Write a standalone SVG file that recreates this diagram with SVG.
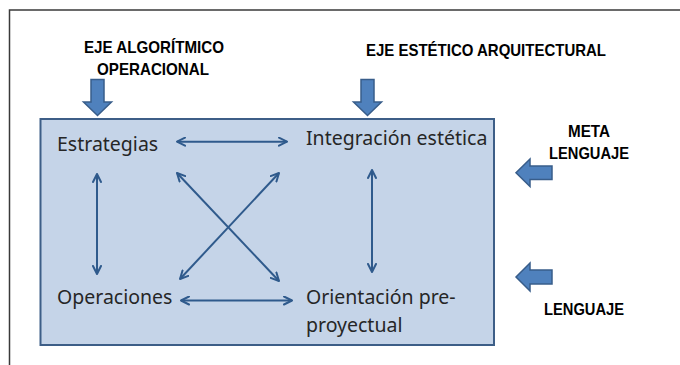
<svg xmlns="http://www.w3.org/2000/svg" width="680" height="365" viewBox="0 0 680 365">
<style>
.lbl{font-family:"Liberation Sans",Arial,sans-serif;font-weight:bold;font-size:16.5px;fill:#000}
.node{font-family:"Noto Sans","Open Sans",sans-serif;font-size:19.5px;fill:#262626}
.blk{fill:#4f81bd;stroke:#385d8a;stroke-width:1.5}
.con{stroke:#2f5a8c;stroke-width:2;fill:none;marker-start:url(#ah);marker-end:url(#ah)}
</style>
<defs>
<marker id="ah" viewBox="0 0 10 10" refX="9" refY="5" markerWidth="5" markerHeight="5" orient="auto-start-reverse" markerUnits="strokeWidth">
<path d="M1,1 L9,5 L1,9" fill="none" stroke="#2f5a8c" stroke-width="2" stroke-linecap="round" stroke-linejoin="round"/>
</marker>
</defs>
<rect width="680" height="365" fill="#fff"/>
<g id="frame">
<path d="M9.5,365 V10 H680" fill="none" stroke="#3a3a3a" stroke-width="1.5"/>
</g>
<g id="box">
<rect x="40.5" y="119" width="453.5" height="226" fill="#c5d4e8" stroke="#3d5e87" stroke-width="2"/>
</g>
<g id="axis-algoritmico">
<text class="lbl" x="84" y="53" textLength="140" lengthAdjust="spacingAndGlyphs">EJE ALGORÍTMICO</text>
<text class="lbl" x="97" y="75" textLength="112" lengthAdjust="spacingAndGlyphs">OPERACIONAL</text>
<path class="blk" d="M91,79.5 H104 V102 H111.5 L97.5,115.5 L83.5,102 H91 Z"/>
</g>
<g id="axis-estetico">
<text class="lbl" x="366" y="56" textLength="240" lengthAdjust="spacingAndGlyphs">EJE ESTÉTICO ARQUITECTURAL</text>
<path class="blk" d="M361,79.5 H374 V102 H381.5 L367.5,115.5 L353.5,102 H361 Z"/>
</g>
<g id="metalenguaje">
<text class="lbl" x="568" y="137" textLength="42" lengthAdjust="spacingAndGlyphs">META</text>
<text class="lbl" x="549" y="159" textLength="80" lengthAdjust="spacingAndGlyphs">LENGUAJE</text>
<path class="blk" d="M552,166 V179.5 H530 V186.5 L516,172.7 L530,159 V166 Z"/>
</g>
<g id="lenguaje">
<text class="lbl" x="544" y="315" textLength="80" lengthAdjust="spacingAndGlyphs">LENGUAJE</text>
<path class="blk" d="M552,270 V284 H530 V291 L516,277 L530,263 V270 Z"/>
</g>
<g id="estrategias"><text class="node" x="57" y="151">Estrategias</text></g>
<g id="integracion"><text class="node" x="306" y="145">Integración estética</text></g>
<g id="operaciones"><text class="node" x="57" y="304">Operaciones</text></g>
<g id="orientacion"><text class="node" x="306" y="304">Orientación pre-<tspan x="306" y="332">proyectual</tspan></text></g>
<g id="connectors">
<line class="con" x1="177" y1="141.7" x2="287" y2="141.7"/>
<line class="con" x1="181" y1="300.5" x2="292" y2="300.5"/>
<line class="con" x1="97" y1="174" x2="97" y2="274"/>
<line class="con" x1="372" y1="170" x2="372" y2="272"/>
<line class="con" x1="177" y1="173" x2="279" y2="281"/>
<line class="con" x1="279" y1="173" x2="180" y2="279"/>
</g>
</svg>
